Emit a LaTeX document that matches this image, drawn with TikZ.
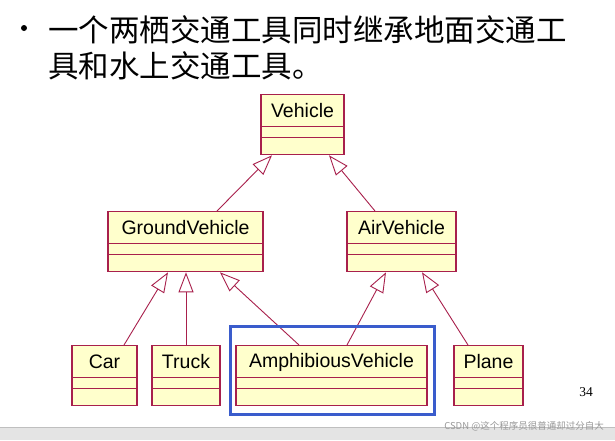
\documentclass[tikz,border=0pt]{standalone}
\usepackage{fontspec}
\setmainfont{Liberation Sans}
\newfontfamily\cjk{Noto Sans CJK SC}
\newfontfamily\serifnum{Liberation Serif}
\usetikzlibrary{arrows.meta}

\definecolor{boxfill}{HTML}{FFFFCC}
\definecolor{boxline}{HTML}{A8204C}
\definecolor{hiblue}{HTML}{3A5CCC}
\definecolor{bandgray}{HTML}{E4E4E4}

\tikzset{
  classbox/.style={rectangle, draw=boxline, fill=boxfill, line width=1.3pt,
                   minimum height=60pt, inner sep=0pt},
  classrule/.style={draw=boxline, line width=1pt},
  classname/.style={font=\fontsize{19.5}{20}\selectfont, inner sep=0pt},
  inherit/.style={draw=boxline, line width=0.9pt,
                  -{Triangle[open, length=20pt, width=15pt, line width=0.9pt]}},
  heading/.style={anchor=base west, inner sep=0pt, font=\cjk\fontsize{30.5}{31}\selectfont}
}

% one class box: name, centre x, top y, width, label
\newcommand\umlclass[5]{%
  \node[classbox, minimum width=#4, anchor=north] (#1) at (#2,#3) {};
  \node[classname] (#1-name) at ([yshift=-17pt]#1.north) {#5};
  \draw[classrule] ([yshift=-32.5pt]#1.north west) -- ([yshift=-32.5pt]#1.north east);
  \draw[classrule] ([yshift=-43pt]#1.north west) -- ([yshift=-43pt]#1.north east);
}

\begin{document}
\begin{tikzpicture}[x=1pt,y=-1pt]

\useasboundingbox (0,0) rectangle (615,440);
\fill[white] (0,0) rectangle (615,440);

% grey strip at the foot
\fill[bandgray] (0,427) rectangle (615,440);
\draw[gray!50, line width=1pt] (0,427) -- (615,427);

% heading
\fill[black] (24,28) circle (3pt);
\node[heading] (line1) at (48,41) {一个两栖交通工具同时继承地面交通工};
\node[heading] (line2) at (48,77) {具和水上交通工具。};

% classes
\umlclass{vehicle}{302.5}{94}{83pt}{Vehicle}
\umlclass{ground}{185.5}{211}{155pt}{GroundVehicle}
\umlclass{air}{401.5}{211}{109pt}{AirVehicle}
\umlclass{car}{104.5}{345}{65pt}{Car}
\umlclass{truck}{186}{345}{68pt}{Truck}
\umlclass{amph}{331.5}{345}{191pt}{AmphibiousVehicle}
\umlclass{plane}{488.5}{345}{69pt}{Plane}

% generalisations
\draw[inherit] ([xshift=31.5pt]ground.north) -- ([xshift=-30.5pt]vehicle.south);
\draw[inherit] ([xshift=-26.5pt]air.north) -- ([xshift=26.5pt]vehicle.south);
\draw[inherit] ([xshift=19.5pt]car.north) -- ([xshift=-17.5pt]ground.south);
\draw[inherit] (truck.north) -- ([xshift=0.5pt]ground.south);
\draw[inherit] ([xshift=-32.5pt]amph.north) -- ([xshift=34.5pt]ground.south);
\draw[inherit] ([xshift=15.5pt]amph.north) -- ([xshift=-15.5pt]air.south);
\draw[inherit] ([xshift=-20.5pt]plane.north) -- ([xshift=20.5pt]air.south);

% highlight round the amphibious class
\draw[hiblue, line width=3pt] (230,326) rectangle (434,414);

% page number and watermark
\node[font=\serifnum\fontsize{13.5}{14}\selectfont, inner sep=0pt] (page) at (586,392) {34};
\node[font=\cjk\fontsize{9.5}{10}\selectfont, text=gray!80, inner sep=0pt]
  (mark) at (524,426) {CSDN @这个程序员很普通却过分自大};

\end{tikzpicture}
\end{document}
